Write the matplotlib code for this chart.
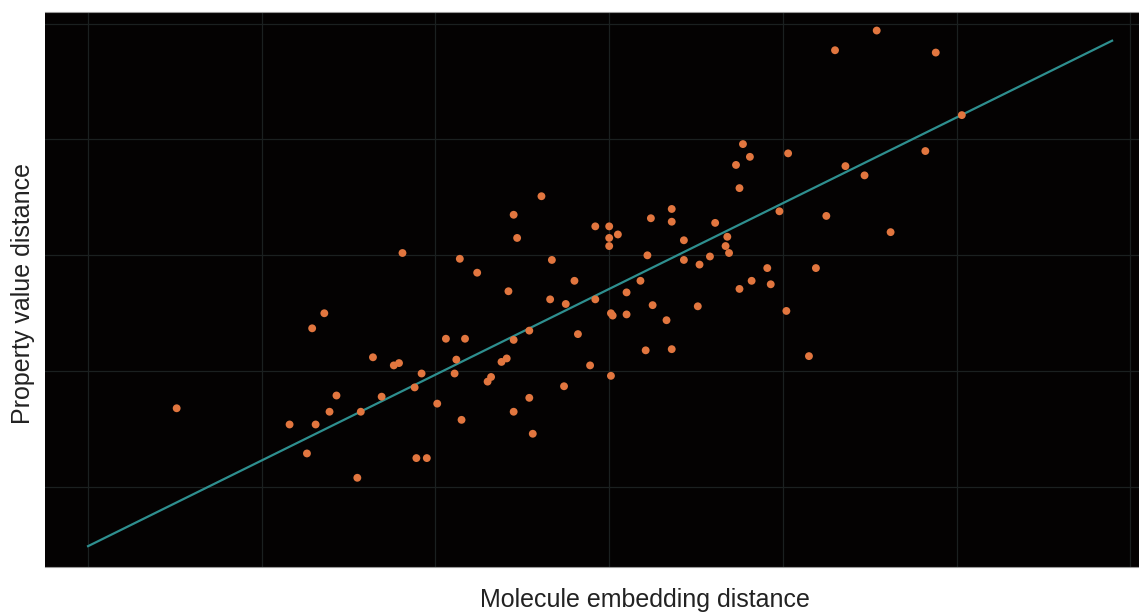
import matplotlib
matplotlib.use("Agg")
import matplotlib.pyplot as plt
import numpy as np

# Data values (arbitrary units; grid spacing = 1 unit)
embed_dist = [0.51, 1.16, 1.26, 1.29, 1.31, 1.36, 1.39, 1.43, 1.55, 1.57,
              1.64, 1.69, 1.76, 1.79, 1.81, 1.88, 1.89, 1.92, 1.95, 2.01,
              2.06, 2.11, 2.12, 2.14, 2.15, 2.17, 2.24, 2.30, 2.32, 2.38,
              2.41, 2.42, 2.45, 2.45, 2.45, 2.47, 2.54, 2.54, 2.56, 2.61,
              2.66, 2.67, 2.74, 2.75, 2.80, 2.82, 2.89, 2.92, 2.92, 3.00,
              3.00, 3.00, 3.01, 3.02, 3.01, 3.05, 3.10, 3.10, 3.18, 3.21,
              3.22, 3.24, 3.25, 3.33, 3.36, 3.36, 3.36, 3.43, 3.43, 3.51,
              3.52, 3.58, 3.61, 3.67, 3.68, 3.69, 3.73, 3.75, 3.75, 3.77,
              3.81, 3.82, 3.91, 3.93, 3.98, 4.02, 4.03, 4.15, 4.19, 4.25,
              4.30, 4.36, 4.47, 4.54, 4.62, 4.82, 4.88, 5.03]
prop_dist = [0.68, 0.54, 0.29, 1.37, 0.54, 1.50, 0.65, 0.79, 0.08, 0.65,
             1.12, 0.78, 1.05, 1.07, 2.02, 0.86, 0.25, 0.98, 0.25, 0.72,
             1.28, 0.98, 1.10, 1.97, 0.58, 1.28, 1.85, 0.91, 0.95, 1.08,
             1.11, 1.69, 2.35, 1.27, 0.65, 2.15, 0.77, 1.35, 0.46, 2.51,
             1.62, 1.96, 0.87, 1.58, 1.78, 1.32, 1.05, 1.62, 2.25, 2.25,
             2.15, 2.08, 1.50, 1.48, 0.96, 2.18, 1.68, 1.49, 1.78, 1.18,
             2.00, 2.32, 1.57, 1.44, 2.40, 2.29, 1.19, 2.13, 1.96, 1.56,
             1.92, 1.99, 2.28, 2.08, 2.16, 2.02, 2.78, 2.58, 1.71, 2.96,
             2.85, 1.78, 1.89, 1.75, 2.38, 1.52, 2.88, 1.13, 1.89, 2.34,
             3.77, 2.77, 2.69, 3.94, 2.20, 2.90, 3.75, 3.21]

fit_slope = 0.740
fit_intercept = -0.51
fit_x_range = [0.0, 5.895]

grid_x = [0, 1, 2, 3, 4, 5, 6]
grid_y = [0, 1, 2, 3, 4]

plt.rcParams['font.family'] = ['Liberation Sans', 'DejaVu Sans']

fig = plt.figure(figsize=(11.39, 6.13), dpi=100)
ax = fig.add_axes([45/1139, 1 - 567/613, 1094/1139, 555/613])
ax.set_facecolor('#040202')

ax.set_xlim(-0.248, 6.05)
ax.set_ylim(-0.69, 4.10)

ax.set_xticks(grid_x)
ax.set_yticks(grid_y)
ax.tick_params(length=0, labelbottom=False, labelleft=False)
ax.grid(True, color='#1b2020', linewidth=0.9)
ax.set_axisbelow(True)

for side, sp in ax.spines.items():
    sp.set_color('#9a9a9a')
    sp.set_linewidth(0.8)
ax.spines['left'].set_visible(False)
ax.spines['right'].set_visible(False)

fx = np.array(fit_x_range)
ax.plot(fx, fit_intercept + fit_slope * fx, color='#2e8f8f', linewidth=1.6, zorder=2)

ax.scatter(embed_dist, prop_dist, s=32, color='#e2763f', edgecolors='none', zorder=3)

fig.text(645/1139, 1 - 600/613, 'Molecule embedding distance', ha='center', va='center',
         fontsize=18, color='#222222')
fig.text(23/1139, 1 - 293/613, 'Property value distance', ha='center', va='center',
         rotation=90, fontsize=18, color='#222222')

fig.savefig('out.png', dpi=100)
